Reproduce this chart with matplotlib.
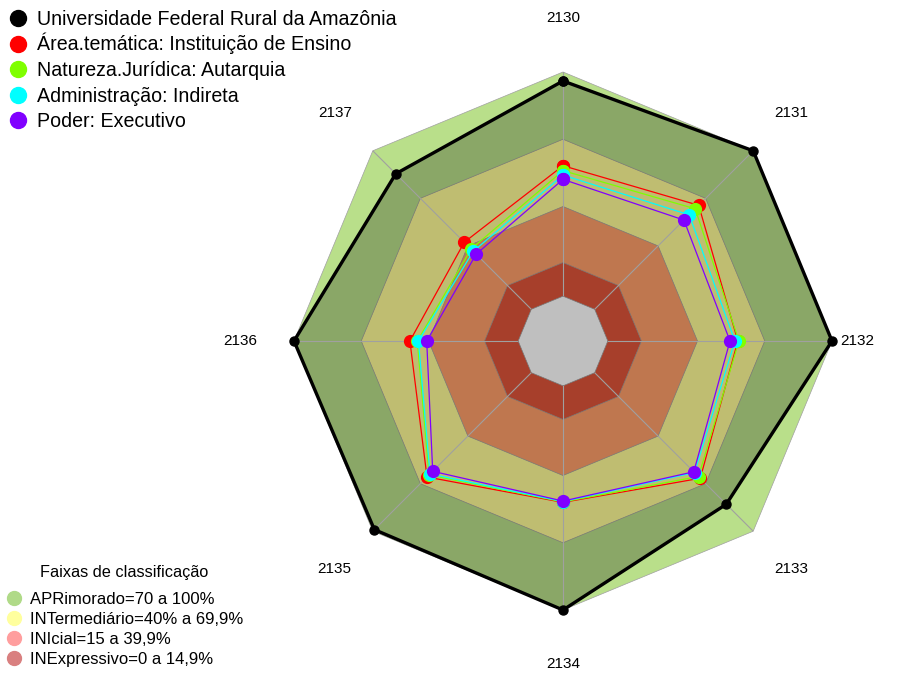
import numpy as np
import matplotlib.pyplot as plt
from matplotlib.lines import Line2D

plt.rcParams['font.family'] = ['Liberation Sans', 'DejaVu Sans']

# eixos do radar (sentido horario a partir do topo)
indicadores = ['2130', '2131', '2132', '2133', '2134', '2135', '2136', '2137']

# valores (%) por serie
universidade = [96, 100, 100, 83, 100, 99, 100, 85.5]
area_tematica = [58.2, 65.6, 58.0, 66.6, 52.0, 65.8, 48.3, 42.3]
natureza_juridica = [56.0, 63.4, 58.5, 65.5, 51.8, 64.5, 45.0, 38.0]
administracao = [54.0, 59.6, 56.7, 63.0, 51.6, 63.9, 44.5, 36.6]
poder = [52.1, 56.3, 54.5, 62.5, 51.4, 62.2, 40.8, 34.8]

series_nomes = ['Universidade Federal Rural da Amazônia',
                'Área.temática: Instituição de Ensino',
                'Natureza.Jurídica: Autarquia',
                'Administração: Indireta',
                'Poder: Executivo']
series_cores = ['#000000', '#FF0000', '#7FFF00', '#00FFFF', '#8000FF']

# faixas de classificacao (limite superior de cada faixa)
faixas_limite = [100, 70, 40, 15]
faixas_nomes = ['APRimorado=70 a 100%', 'INTermediário=40% a 69,9%',
                'INIcial=15 a 39,9%', 'INExpressivo=0 a 14,9%']
faixas_cores = ['#B9DF8A', '#FFFD98', '#FFA06A', '#E0553A']
faixas_legenda = ['#B0DA88', '#FFFF9E', '#FF9E9E', '#D98080']

n = len(indicadores)
ang = np.linspace(0, 2 * np.pi, n, endpoint=False)
ang_c = np.append(ang, ang[0])


def fechar(v):
    return np.append(v, v[0])


fig = plt.figure(figsize=(9.05, 6.75), dpi=100)
ax = fig.add_axes([294 / 905, 65 / 675, 538 / 905, 538 / 675], projection='polar')
ax.set_theta_zero_location('N')
ax.set_theta_direction(-1)
ax.set_ylim(0, 100)
ax.set_rorigin(-20)
ax.set_axis_off()

# faixas de fundo (clip_on=False: o rorigin deixa um furo no patch do eixo)
for lim, cor in zip(faixas_limite, faixas_cores):
    ax.fill(ang_c, np.full(n + 1, lim), color=cor, ec='#A0A0A0', lw=0.5,
            zorder=1, clip_on=False)
ax.fill(ang_c, np.zeros(n + 1), color='white', ec='#A0A0A0', lw=0.5,
        zorder=1, clip_on=False)

# preenchimento da serie da universidade
ax.fill(ang_c, fechar(universidade), color='black', alpha=0.25, lw=0,
        zorder=2, clip_on=False)

# raios
for a in ang:
    ax.plot([a, a], [0, 100], color='#A0A0A0', lw=0.8, zorder=3)

# series
dados = [universidade, area_tematica, natureza_juridica, administracao, poder]
for i, (v, cor) in enumerate(zip(dados, series_cores)):
    if i == 0:
        ax.plot(ang_c, fechar(v), color=cor, lw=2.4, marker='o', ms=6.5,
                zorder=5, clip_on=False)
    else:
        ax.plot(ang_c, fechar(v), color=cor, lw=0.9, marker='o', ms=8.5,
                zorder=5 + i, clip_on=False)

# rotulos dos eixos
for a, txt in zip(ang, indicadores):
    r = 111.4 if txt == '2132' else 124
    ax.text(a, r, txt, ha='center', va='center', fontsize=11)

# legenda das series (linhas com espacamento fixo, como no R)
leg = fig.add_axes([0, 0, 1, 1], zorder=-1)
leg.set_xlim(0, 905)
leg.set_ylim(675, 0)
leg.set_axis_off()
for i, (nome, cor) in enumerate(zip(series_nomes, series_cores)):
    y = 18 + i * 25.5
    leg.plot(18, y, ls='', marker='o', ms=11.5, color=cor)
    leg.text(37, y + 7, nome, fontsize=14.1, va='baseline', ha='left')

# legenda das faixas
fig.text(124 / 905, 1 - 572 / 675, 'Faixas de classificação', fontsize=11.7,
         ha='center', va='center')
h2 = [Line2D([], [], ls='', marker='o', ms=10, color=c) for c in faixas_legenda]
fig.legend(h2, faixas_nomes, loc='lower left', bbox_to_anchor=(5.7 / 905, 8 / 675),
           frameon=False, fontsize=12, handlelength=1.0, handletextpad=0.46,
           borderpad=0, borderaxespad=0, labelspacing=0.31)

plt.savefig('out.png', dpi=100)
plt.close()
